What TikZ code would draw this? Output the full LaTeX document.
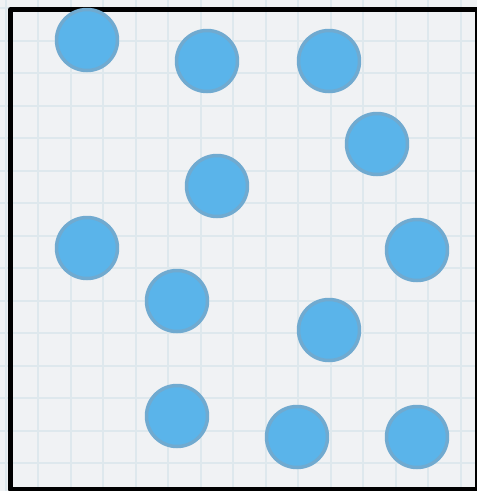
\documentclass[tikz,border=0pt]{standalone}
\definecolor{paper}{RGB}{240,242,244}
\definecolor{gridline}{RGB}{222,232,237}
\definecolor{ballfill}{RGB}{90,180,234}
\definecolor{ballrim}{RGB}{112,170,208}
\tikzset{
	ball/.style={fill=ballfill, draw=ballrim, line width=3.5pt},
}
\begin{document}
\begin{tikzpicture}[x=1pt, y=-1pt, line join=round]
			\useasboundingbox (0,0) rectangle (477,491);
			\fill[paper] (0,0) rectangle (477,491);
			\begin{scope}
				\clip (0,0) rectangle (477,491);
				\foreach \gx in {5.5,38,...,480} \draw[gridline, line width=2pt] (\gx,0)--(\gx,491);
				\foreach \gy in {8,40.5,...,495} \draw[gridline, line width=2pt] (0,\gy)--(477,\gy);
				\draw[line width=5pt] (10.5,9.5) rectangle (477.5,489);
			\end{scope}
			\foreach \bx/\by in {87/40, 207/61, 329/61, 377/144, 217/186, 87/248, 417/250, 177/301, 329/330, 177/416, 297/437, 417/437}
				\draw[ball] (\bx,\by) circle (30.5);
		\end{tikzpicture}
\end{document}
